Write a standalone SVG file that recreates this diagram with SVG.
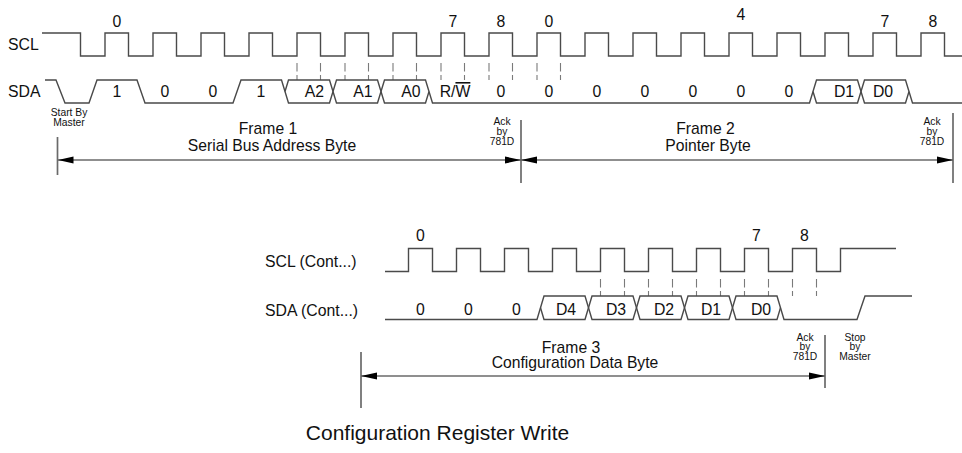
<svg xmlns="http://www.w3.org/2000/svg" width="962" height="453" viewBox="0 0 962 453">
<defs>
<style>
text{font-family:"Liberation Sans",Arial,sans-serif;fill:#111}
.lbl{font-size:15.8px}
.mid{text-anchor:middle}
.sm{font-size:10.3px;text-anchor:middle}
.frm{font-size:15.7px;text-anchor:middle}
.ttl{font-size:21px;text-anchor:middle}
.sig{fill:none;stroke:#4a4a4a;stroke-width:1.4;stroke-linejoin:miter}
.tick{stroke:#7a7a7a;stroke-width:1.1;stroke-dasharray:8.5 3.5}
.dim{stroke:#6a6a6a;stroke-width:1.7;fill:none}
</style>
<marker id="ah" viewBox="0 0 16 8" refX="16" refY="4" markerWidth="16" markerHeight="8" markerUnits="userSpaceOnUse" orient="auto-start-reverse">
<path d="M0,0.5 L16,4 L0,7.5 Z" fill="#000"/>
</marker>
</defs>
<rect width="962" height="453" fill="#fff"/>

<g id="scl-top">
<text class="lbl" x="8" y="50">SCL</text>
<path class="sig" d="M42,33 H80.5 V56 H105 V33 H128.5 V56 H153 V33 H176.5 V56 H201 V33 H224.5 V56 H249 V33 H272.5 V56 H297 V33 H320.5 V56 H345 V33 H368.5 V56 H393 V33 H416.5 V56 H441 V33 H464.5 V56 H489 V33 H512.5 V56 H537 V33 H560.5 V56 H585 V33 H608.5 V56 H633 V33 H656.5 V56 H681 V33 H704.5 V56 H729 V33 H752.5 V56 H777 V33 H800.5 V56 H825 V33 H848.5 V56 H873 V33 H896.5 V56 H921 V33 H944.5 V56 H962"/>
<g class="lbl mid">
<text x="117" y="26.5" text-anchor="middle">0</text>
<text x="453" y="26.5" text-anchor="middle">7</text>
<text x="501" y="26.5" text-anchor="middle">8</text>
<text x="549" y="26.5" text-anchor="middle">0</text>
<text x="741" y="20" text-anchor="middle">4</text>
<text x="885" y="26.5" text-anchor="middle">7</text>
<text x="933" y="26.5" text-anchor="middle">8</text>
</g>
</g>

<g id="ticks-top">
<line class="tick" x1="297" y1="63" x2="297" y2="80"/>
<line class="tick" x1="320.5" y1="63" x2="320.5" y2="80"/>
<line class="tick" x1="345" y1="63" x2="345" y2="80"/>
<line class="tick" x1="368.5" y1="63" x2="368.5" y2="80"/>
<line class="tick" x1="393" y1="63" x2="393" y2="80"/>
<line class="tick" x1="416.5" y1="63" x2="416.5" y2="80"/>
<line class="tick" x1="441" y1="63" x2="441" y2="80"/>
<line class="tick" x1="464.5" y1="63" x2="464.5" y2="80"/>
<line class="tick" x1="489" y1="63" x2="489" y2="80"/>
<line class="tick" x1="512.5" y1="63" x2="512.5" y2="80"/>
<line class="tick" x1="537" y1="63" x2="537" y2="80"/>
<line class="tick" x1="560.5" y1="63" x2="560.5" y2="80"/>
</g>

<g id="sda-top">
<text class="lbl" x="8" y="96.5">SDA</text>
<path class="sig" d="M45,80 H56 L65,103 H89 L97,80 H137 L145,103 H233 L241,80 H281.5 L288.5,103 H329.5 L336.5,80 H377.5 L384.5,103 H425.5 L429,91.5"/>
<path class="sig" d="M285,91.5 L288.5,80 H329.5 L336.5,103 H377.5 L384.5,80 H425.5 L432.5,103 H809.5 L816.5,80 H857.5 L864.5,103 H905.5 L909,91.5"/>
<path class="sig" d="M813,91.5 L816.5,103 H857.5 L864.5,80 H905.5 L912.5,103 H962"/>
<g class="lbl">
<text x="117" y="97" text-anchor="middle">1</text>
<text x="165" y="97" text-anchor="middle">0</text>
<text x="213" y="97" text-anchor="middle">0</text>
<text x="261" y="97" text-anchor="middle">1</text>
<text x="314.5" y="97" text-anchor="middle">A2</text>
<text x="363" y="97" text-anchor="middle">A1</text>
<text x="411" y="97" text-anchor="middle">A0</text>
<text x="455" y="97" text-anchor="middle">R/<tspan text-decoration="overline">W</tspan></text>
<text x="501" y="97" text-anchor="middle">0</text>
<text x="549" y="97" text-anchor="middle">0</text>
<text x="597" y="97" text-anchor="middle">0</text>
<text x="645" y="97" text-anchor="middle">0</text>
<text x="693" y="97" text-anchor="middle">0</text>
<text x="741" y="97" text-anchor="middle">0</text>
<text x="789" y="97" text-anchor="middle">0</text>
<text x="844" y="97" text-anchor="middle">D1</text>
<text x="883" y="97" text-anchor="middle">D0</text>
</g>
</g>

<g id="start-note">
<text class="sm" x="69" y="116">Start By</text>
<text class="sm" x="69" y="125.5">Master</text>
</g>

<g id="frame1">
<text class="frm" x="268" y="134">Frame 1</text>
<text class="frm" x="272" y="150.5">Serial Bus Address Byte</text>
</g>
<g id="ack1">
<text class="sm" x="502" y="125">Ack</text>
<text class="sm" x="502" y="134.5">by</text>
<text class="sm" x="502" y="144.5">781D</text>
</g>
<g id="frame2">
<text class="frm" x="705.5" y="134">Frame 2</text>
<text class="frm" x="708" y="150.5">Pointer Byte</text>
</g>
<g id="ack2">
<text class="sm" x="932" y="125">Ack</text>
<text class="sm" x="932" y="134.5">by</text>
<text class="sm" x="932" y="144.5">781D</text>
</g>

<g id="scl-cont">
<text class="lbl" x="265" y="267">SCL (Cont...)</text>
<path class="sig" d="M385,271.5 H408.5 V248.5 H432.5 V271.5 H456.5 V248.5 H480.5 V271.5 H504.5 V248.5 H528.5 V271.5 H552.5 V248.5 H576.5 V271.5 H600.5 V248.5 H624.5 V271.5 H648.5 V248.5 H672.5 V271.5 H696.5 V248.5 H720.5 V271.5 H744.5 V248.5 H768.5 V271.5 H792.5 V248.5 H816.5 V271.5 H840.5 V248.5 H896"/>
<text class="lbl" x="420.5" y="241" text-anchor="middle">0</text>
<text class="lbl" x="756.5" y="241" text-anchor="middle">7</text>
<text class="lbl" x="804.5" y="241" text-anchor="middle">8</text>
</g>

<g id="ticks-bottom">
<line class="tick" x1="600.5" y1="279" x2="600.5" y2="296"/>
<line class="tick" x1="624.5" y1="279" x2="624.5" y2="296"/>
<line class="tick" x1="648.5" y1="279" x2="648.5" y2="296"/>
<line class="tick" x1="672.5" y1="279" x2="672.5" y2="296"/>
<line class="tick" x1="696.5" y1="279" x2="696.5" y2="296"/>
<line class="tick" x1="720.5" y1="279" x2="720.5" y2="296"/>
<line class="tick" x1="744.5" y1="279" x2="744.5" y2="296"/>
<line class="tick" x1="768.5" y1="279" x2="768.5" y2="296"/>
<line class="tick" x1="792.5" y1="279" x2="792.5" y2="296"/>
<line class="tick" x1="816.5" y1="279" x2="816.5" y2="296"/>
</g>

<g id="sda-cont">
<text class="lbl" x="265" y="316">SDA (Cont...)</text>
<path class="sig" d="M385,319.5 H537 L544,296 H585 L592,319.5 H633 L640,296 H681 L688,319.5 H729 L736,296 H777 L784,319.5 H857 L865,296 H912"/>
<path class="sig" d="M540.5,307.75 L544,319.5 H585 L592,296 H633 L640,319.5 H681 L688,296 H729 L736,319.5 H777 L780.5,307.75"/>
<g class="lbl">
<text x="420.5" y="314.5" text-anchor="middle">0</text>
<text x="468.5" y="314.5" text-anchor="middle">0</text>
<text x="516.5" y="314.5" text-anchor="middle">0</text>
<text x="566" y="314.5" text-anchor="middle">D4</text>
<text x="616" y="314.5" text-anchor="middle">D3</text>
<text x="664" y="314.5" text-anchor="middle">D2</text>
<text x="711" y="314.5" text-anchor="middle">D1</text>
<text x="761" y="314.5" text-anchor="middle">D0</text>
</g>
</g>

<g id="frame3">
<text class="frm" x="571" y="352.5">Frame 3</text>
<text class="frm" x="575" y="368">Configuration Data Byte</text>
</g>
<g id="ack3">
<text class="sm" x="805" y="340.5">Ack</text>
<text class="sm" x="805" y="350">by</text>
<text class="sm" x="805" y="359.5">781D</text>
</g>
<g id="stop-note">
<text class="sm" x="855" y="340.5">Stop</text>
<text class="sm" x="855" y="350">by</text>
<text class="sm" x="855" y="359.5">Master</text>
</g>

<g id="connectors">
<line class="dim" x1="57.5" y1="137" x2="57.5" y2="175"/>
<line class="dim" x1="521" y1="120" x2="521" y2="183"/>
<line class="dim" x1="953" y1="113" x2="953" y2="183"/>
<line class="dim" x1="57.5" y1="160" x2="521" y2="160" marker-start="url(#ah)" marker-end="url(#ah)"/>
<line class="dim" x1="521" y1="160" x2="953" y2="160" marker-start="url(#ah)" marker-end="url(#ah)"/>
<line class="dim" x1="361" y1="352" x2="361" y2="408"/>
<line class="dim" x1="825" y1="335" x2="825" y2="388"/>
<line class="dim" x1="361" y1="376" x2="825" y2="376" marker-start="url(#ah)" marker-end="url(#ah)"/>
</g>

<g id="title">
<text class="ttl" x="437.5" y="440">Configuration Register Write</text>
</g>
</svg>
